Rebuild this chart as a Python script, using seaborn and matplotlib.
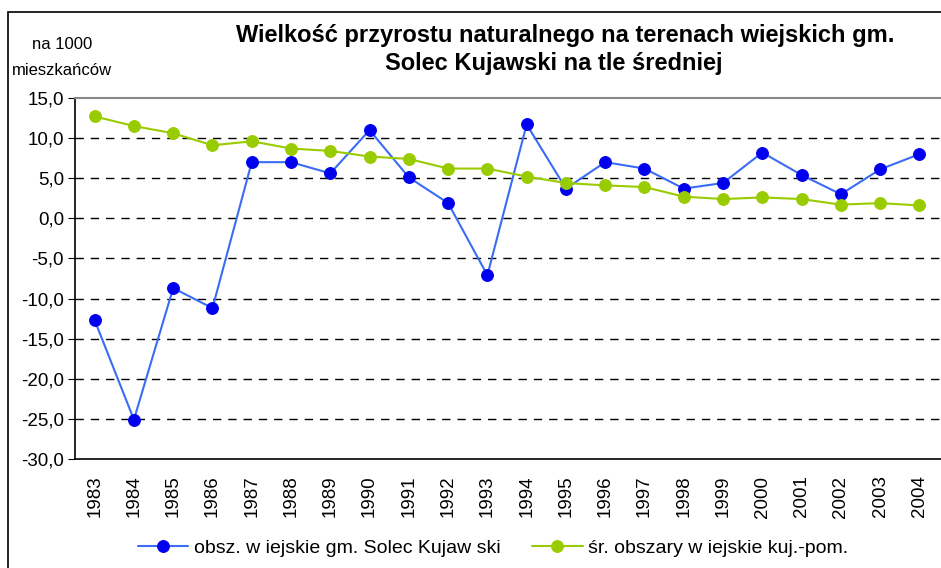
import pandas as pd
import seaborn as sns
import matplotlib.pyplot as plt
from matplotlib.patches import Rectangle

years = [str(y) for y in range(1983, 2005)]
solec = [-12.7, -25.1, -8.7, -11.2, 7.0, 7.0, 5.6, 11.0, 5.1, 1.9, -7.1,
         11.7, 3.7, 7.0, 6.2, 3.7, 4.4, 8.2, 5.4, 3.0, 6.1, 8.0]
srednia = [12.7, 11.5, 10.6, 9.1, 9.6, 8.7, 8.4, 7.7, 7.4, 6.2, 6.2,
           5.2, 4.4, 4.1, 3.9, 2.7, 2.4, 2.6, 2.4, 1.7, 1.9, 1.6]
yticks = [15, 10, 5, 0, -5, -10, -15, -20, -25, -30]

df = pd.DataFrame({'rok': years, 'solec': solec, 'srednia': srednia})
df['x'] = range(len(df))

sns.set_style('white')
plt.rcParams['font.family'] = ['Liberation Sans', 'DejaVu Sans']
plt.rcParams['text.color'] = 'black'
plt.rcParams['xtick.color'] = 'black'
plt.rcParams['ytick.color'] = 'black'

fig = plt.figure(figsize=(9.41, 5.68), dpi=100)
ax = fig.add_axes([0.0797, 0.192, 0.9203, 0.6355])

sns.lineplot(x='x', y='solec', data=df, ax=ax, color='#3a6cf5', lw=1.5,
             marker='o', markersize=8.5, markerfacecolor='#0000ee',
             markeredgecolor='#0000ee', label='obsz. w iejskie gm. Solec Kujaw ski')
sns.lineplot(x='x', y='srednia', data=df, ax=ax, color='#99cc00', lw=1.5,
             marker='o', markersize=8.5, markerfacecolor='#99cc00',
             markeredgecolor='#99cc00', label='śr. obszary w iejskie kuj.-pom.')

ax.set_xlim(-0.5, len(years) - 0.45)
ax.set_ylim(-30, 15)
ax.set_yticks(yticks)
ax.set_yticklabels([f'{v:.1f}'.replace('.', ',') for v in yticks], fontsize=13.5)
ax.set_xticks(df['x'])
ax.set_xticklabels(years, rotation=90, fontsize=13.5)
ax.set_xticks([i - 0.5 for i in range(len(years) + 1)], minor=True)
ax.tick_params(axis='x', which='major', length=0, pad=12)
ax.tick_params(axis='x', which='minor', length=5, direction='out', color='black')
ax.tick_params(axis='y', length=5, direction='out', color='black', left=True, pad=3)
ax.set_xlabel('')
ax.set_ylabel('')

for v in yticks[1:-1]:
    ax.axhline(v, color='black', lw=1, ls=(0, (6, 5)), zorder=0)

for s in ['left', 'bottom']:
    ax.spines[s].set_color('black')
    ax.spines[s].set_linewidth(1.2)
ax.spines['top'].set_color('#888888')
ax.spines['top'].set_linewidth(1.5)
ax.spines['right'].set_visible(False)

ax.legend(loc='center', bbox_to_anchor=(0.524, 0.035),
          bbox_transform=fig.transFigure, ncol=2,
          frameon=False, fontsize=14, handlelength=2.6, handletextpad=0.3,
          columnspacing=1.6, borderpad=0)

fig.text(0.601, 0.938, 'Wielkość przyrostu naturalnego na terenach wiejskich gm.',
         ha='center', va='center', fontsize=17, fontweight='bold')
fig.text(0.588, 0.889, 'Solec Kujawski na tle średniej',
         ha='center', va='center', fontsize=17, fontweight='bold')
fig.text(0.066, 0.921, 'na 1000', ha='center', va='center', fontsize=12)
fig.text(0.066, 0.876, 'mieszkańców', ha='center', va='center', fontsize=12)

fig.patches.append(Rectangle((8 / 941, -0.1), 1.2, 1.1 - 12 / 568,
                             transform=fig.transFigure, fill=False,
                             edgecolor='black', lw=1.2))

fig.savefig('out.png', dpi=100)
